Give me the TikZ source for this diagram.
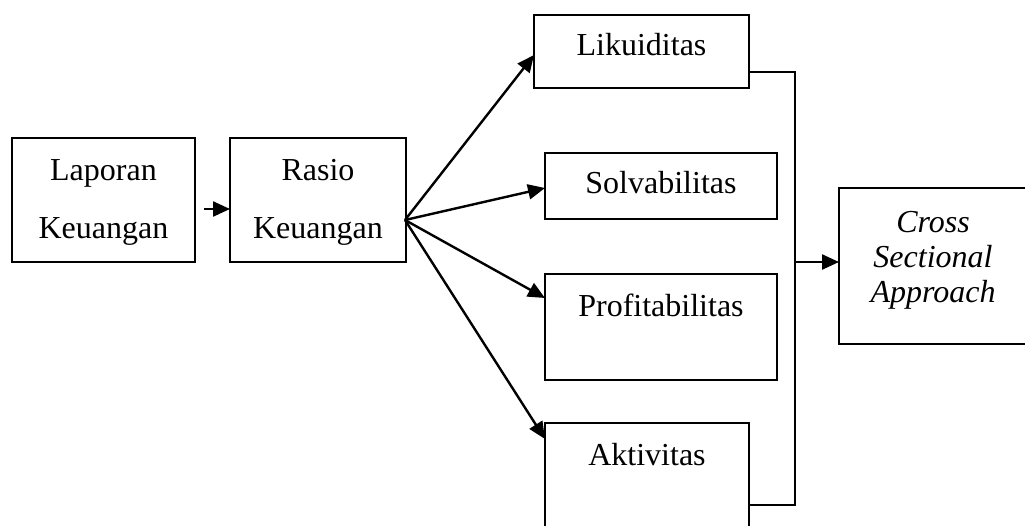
\documentclass[tikz,border=0pt]{standalone}
\usepackage{fontspec}
\setmainfont{Liberation Serif}
\usetikzlibrary{arrows.meta,calc}
\tikzset{
  box/.style={draw, line width=2pt, rectangle, inner sep=0pt, outer sep=0pt, anchor=north west},
  txt/.style={inner sep=0pt, anchor=base, font=\fontsize{32}{38}\selectfont},
  itxt/.style={txt, font=\fontsize{32}{38}\selectfont\itshape},
  conn/.style={line width=2.4pt, -{Triangle[length=17pt,width=15pt]}},
  bus/.style={line width=2pt}
}
\begin{document}
\begin{tikzpicture}[x=1pt,y=-1pt]
\useasboundingbox (0,0) rectangle (1025,525);
% boxes
\node[box, minimum width=183pt, minimum height=124pt] (lap) at (12,138) {};
\node[box, minimum width=176pt, minimum height=124pt] (ras) at (230,138) {};
\node[box, minimum width=215pt, minimum height=73pt] (lik) at (534,15) {};
\node[box, minimum width=232pt, minimum height=66pt] (sol) at (545,153) {};
\node[box, minimum width=232pt, minimum height=106pt] (pro) at (545,274) {};
\node[box, minimum width=204pt, minimum height=120pt] (akt) at (545,423) {};
\node[box, minimum width=190pt, minimum height=156pt] (cro) at (839,188) {};
% texts
\node[txt] (lapA) at (103.5,180) {Laporan};
\node[txt] (lapB) at (103.5,238) {Keuangan};
\node[txt] (rasA) at (318,180) {Rasio};
\node[txt] (rasB) at (318,238) {Keuangan};
\node[txt] (likT) at (641.5,55) {Likuiditas};
\node[txt] (solT) at (661,193) {Solvabilitas};
\node[txt] (proT) at (661,316) {Profitabilitas};
\node[txt] (aktT) at (647,465) {Aktivitas};
\node[itxt] (croA) at (933,232) {Cross};
\node[itxt] (croB) at (933,267) {Sectional};
\node[itxt] (croC) at (933,302) {Approach};
% connectors
\coordinate (s1) at (204,209);
\draw[conn] (s1) -- (ras.west |- s1);
\coordinate (fan) at (405,220);
\draw[conn] (fan) -- (lik.west |- 0,55);
\draw[conn] (fan) -- (sol.west |- 0,188);
\draw[conn] (fan) -- (pro.west |- 0,298);
\draw[conn] (fan) -- (akt.west |- 0,439);
\coordinate (jt) at (795,72);
\coordinate (jb) at (795,505);
\coordinate (jm) at (795,262);
\draw[bus] (lik.east |- jt) -- (jt) -- (jb) -- (akt.east |- jb);
\draw[conn] (jm) -- (cro.west |- jm);
\end{tikzpicture}
\end{document}
